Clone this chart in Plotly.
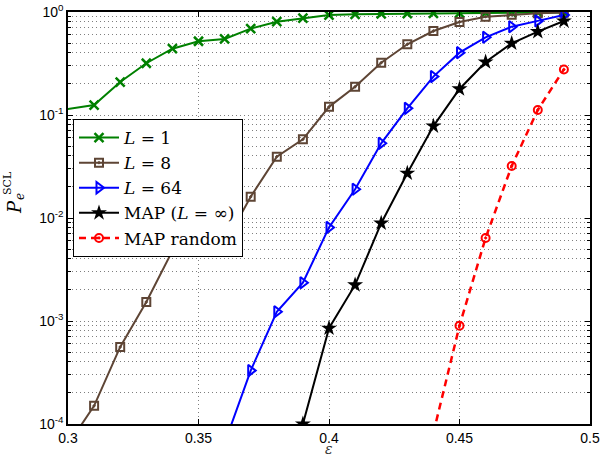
import plotly.graph_objects as go

# ---- data ----
eps_L1 = [0.29, 0.31, 0.32, 0.33, 0.34, 0.35, 0.36, 0.37, 0.38, 0.39, 0.40, 0.41, 0.42, 0.43, 0.44, 0.45, 0.46, 0.47, 0.48, 0.49]
pe_L1 = [0.105, 0.125, 0.209, 0.318, 0.44, 0.52, 0.547, 0.69, 0.805, 0.87, 0.935, 0.95, 0.96, 0.965, 0.97, 0.975, 0.98, 0.985, 0.99, 0.99]

eps_L8 = [0.30, 0.31, 0.32, 0.33, 0.34, 0.35, 0.36, 0.37, 0.38, 0.39, 0.40, 0.41, 0.42, 0.43, 0.44, 0.45, 0.46, 0.47, 0.48, 0.49]
pe_L8 = [6.3e-5, 1.5e-4, 5.6e-4, 1.53e-3, 4.8e-3, 5.5e-3, 5.6e-3, 0.0161, 0.0394, 0.058, 0.12, 0.188, 0.322, 0.486, 0.654, 0.80, 0.90, 0.94, 0.97, 0.99]

eps_L64 = [0.36, 0.37, 0.38, 0.39, 0.40, 0.41, 0.42, 0.43, 0.44, 0.45, 0.46, 0.47, 0.48, 0.49]
pe_L64 = [6.5e-5, 3.3e-4, 1.23e-3, 2.35e-3, 8.1e-3, 0.019, 0.0531, 0.116, 0.236, 0.403, 0.568, 0.72, 0.82, 0.935]

eps_MAP = [0.39, 0.40, 0.41, 0.42, 0.43, 0.44, 0.45, 0.46, 0.47, 0.48, 0.49]
pe_MAP = [1.0e-4, 8.5e-4, 2.24e-3, 8.9e-3, 0.0272, 0.078, 0.179, 0.327, 0.497, 0.644, 0.818]

eps_rand = [0.44, 0.45, 0.46, 0.47, 0.48, 0.49]
pe_rand = [8.2e-5, 9.0e-4, 6.4e-3, 0.032, 0.112, 0.277]

x_ticks = [0.3, 0.35, 0.4, 0.45, 0.5]
x_ticktext = ["0.3", "0.35", "0.4", "0.45", "0.5"]
y_ticks = [1e-4, 1e-3, 1e-2, 1e-1, 1]
y_ticktext = ["10<sup>-4</sup>", "10<sup>-3</sup>", "10<sup>-2</sup>", "10<sup>-1</sup>", "10<sup>0</sup>"]
y_minor = [m * 10.0 ** k for k in range(-4, 0) for m in range(2, 10)]

names = ["<i>L</i> = 1", "<i>L</i> = 8", "<i>L</i> = 64", "MAP (<i>L</i> = ∞)", "MAP random"]

fig = go.Figure()
fig.add_trace(go.Scatter(x=eps_L1, y=pe_L1, name=names[0], mode="lines+markers",
                         line=dict(color="#008000", width=2),
                         marker=dict(symbol="x-thin", size=9, line=dict(color="#008000", width=2.5))))
fig.add_trace(go.Scatter(x=eps_L8, y=pe_L8, name=names[1], mode="lines+markers",
                         line=dict(color="#5e4535", width=2),
                         marker=dict(symbol="square-open-dot", size=8, color="#5e4535", line=dict(color="#5e4535", width=2))))
fig.add_trace(go.Scatter(x=eps_L64, y=pe_L64, name=names[2], mode="lines+markers",
                         line=dict(color="#0000ff", width=2),
                         marker=dict(symbol="triangle-right-open", size=10, color="#0000ff", line=dict(color="#0000ff", width=2))))
fig.add_trace(go.Scatter(x=eps_MAP, y=pe_MAP, name=names[3], mode="lines+markers",
                         line=dict(color="#000000", width=2),
                         marker=dict(symbol="star", size=12, color="#000000")))
fig.add_trace(go.Scatter(x=eps_rand, y=pe_rand, name=names[4], mode="lines+markers",
                         line=dict(color="#ff0000", width=2.5, dash="7px,5px"),
                         marker=dict(symbol="circle-open-dot", size=8, color="#ff0000", line=dict(color="#ff0000", width=2))))

grid_col = "rgba(0,0,0,0.5)"
fig.update_xaxes(range=[0.3, 0.5], tickvals=x_ticks, ticktext=x_ticktext,
                 ticks="inside", ticklen=5, tickcolor="black", mirror="allticks",
                 showline=True, linecolor="black", linewidth=1.5,
                 showgrid=True, gridcolor=grid_col, griddash="1px,3px", gridwidth=1,
                 zeroline=False, automargin=False,
                 tickfont=dict(family="Liberation Sans", size=14, color="black"))
fig.update_yaxes(type="log", range=[-4, 0], tickvals=y_ticks, ticktext=y_ticktext,
                 ticks="inside", ticklen=5, tickcolor="black", mirror="allticks",
                 showline=True, linecolor="black", linewidth=1.5,
                 showgrid=True, gridcolor=grid_col, griddash="1px,3px", gridwidth=1,
                 zeroline=False, automargin=False,
                 tickfont=dict(family="Liberation Sans", size=14, color="black"),
                 minor=dict(tickvals=y_minor, ticks="inside", ticklen=3, tickcolor="black",
                            showgrid=True, gridcolor=grid_col, griddash="1px,3px", gridwidth=1))

W, H = 602, 459
L_, R_, T_, B_ = 68, 12, 12, 35
pw, ph = W - L_ - R_, H - T_ - B_

def px(xp):
    return (xp - L_) / pw

def py(yp):
    return 1 - (yp - T_) / ph

serif = "DejaVu Serif"
ann = dict(xref="paper", yref="paper", showarrow=False, xanchor="center", yanchor="middle")
fig.add_annotation(x=px(14), y=py(207), text="<i>P</i>", textangle=-90,
                   font=dict(family=serif, size=18, color="black"), **ann)
fig.add_annotation(x=px(8), y=py(183), text="SCL", textangle=-90,
                   font=dict(family=serif, size=11, color="black"), **ann)
fig.add_annotation(x=px(20), y=py(197), text="<i>e</i>", textangle=-90,
                   font=dict(family=serif, size=12, color="black"), **ann)
fig.add_annotation(x=px(329), y=py(458), text="<i>ε</i>", xref="paper", yref="paper",
                   showarrow=False, xanchor="center", yanchor="bottom", borderpad=0,
                   font=dict(family=serif, size=14, color="#333"))

fig.update_layout(
    width=W, height=H,
    margin=dict(l=L_, r=R_, t=T_, b=B_, autoexpand=False),
    paper_bgcolor="white", plot_bgcolor="white",
    showlegend=True,
    legend=dict(x=px(73), y=py(119), xanchor="left", yanchor="top",
                bgcolor="white", bordercolor="black", borderwidth=1,
                font=dict(family=serif, size=17, color="black"),
                tracegroupgap=0, itemwidth=40),
)

fig.write_html("out.html", config={"displayModeBar": False},
               post_script="document.body.style.margin='0';document.body.style.overflow='hidden';")
